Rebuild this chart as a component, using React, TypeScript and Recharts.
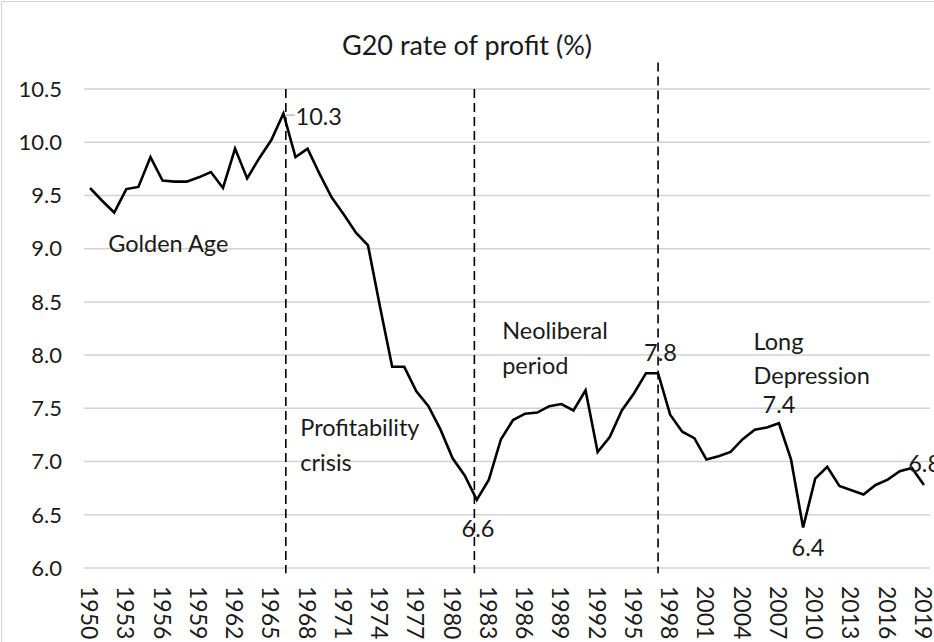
import React from 'react';
import {
  LineChart,
  Line,
  XAxis,
  YAxis,
  CartesianGrid,
  ReferenceLine,
  ReferenceDot
} from 'recharts';

const years = [
  1950, 1951, 1952, 1953, 1954, 1955, 1956, 1957, 1958, 1959,
  1960, 1961, 1962, 1963, 1964, 1965, 1966, 1967, 1968, 1969,
  1970, 1971, 1972, 1973, 1974, 1975, 1976, 1977, 1978, 1979,
  1980, 1981, 1982, 1983, 1984, 1985, 1986, 1987, 1988, 1989,
  1990, 1991, 1992, 1993, 1994, 1995, 1996, 1997, 1998, 1999,
  2000, 2001, 2002, 2003, 2004, 2005, 2006, 2007, 2008, 2009,
  2010, 2011, 2012, 2013, 2014, 2015, 2016, 2017, 2018, 2019
];

// G20 rate of profit, %
const profitRate = [
  9.57, 9.45, 9.34, 9.56, 9.58, 9.86, 9.64, 9.63, 9.63, 9.67,
  9.72, 9.57, 9.94, 9.66, 9.85, 10.02, 10.27, 9.86, 9.94, 9.70,
  9.48, 9.32, 9.15, 9.03, 8.45, 7.89, 7.89, 7.66, 7.52, 7.30,
  7.03, 6.87, 6.64, 6.83, 7.21, 7.39, 7.45, 7.46, 7.52, 7.54,
  7.48, 7.67, 7.09, 7.23, 7.48, 7.64, 7.83, 7.83, 7.44, 7.28,
  7.22, 7.02, 7.05, 7.09, 7.21, 7.30, 7.32, 7.36, 7.02, 6.38,
  6.84, 6.95, 6.77, 6.73, 6.69, 6.78, 6.83, 6.91, 6.94, 6.78
];

const xTicks = [
  1950, 1953, 1956, 1959, 1962, 1965, 1968, 1971, 1974, 1977, 1980, 1983,
  1986, 1989, 1992, 1995, 1998, 2001, 2004, 2007, 2010, 2013, 2016, 2019
];
const yTicks = [6.0, 6.5, 7.0, 7.5, 8.0, 8.5, 9.0, 9.5, 10.0, 10.5];

// period boundaries (dashed verticals)
const breakYears = [1966.2, 1981.8, 1997];
const breakTops = [10.5, 10.5, 10.75];

// text notes, placed in data coordinates
const notes = [
  { x: 1951.5, y: 9.05, text: 'Golden Age', anchor: 'start' },
  { x: 1967.4, y: 7.32, text: 'Profitability', anchor: 'start' },
  { x: 1967.4, y: 7.0, text: 'crisis', anchor: 'start' },
  { x: 1984.1, y: 8.24, text: 'Neoliberal', anchor: 'start' },
  { x: 1984.1, y: 7.91, text: 'period', anchor: 'start' },
  { x: 2004.9, y: 8.13, text: 'Long', anchor: 'start' },
  { x: 2004.9, y: 7.81, text: 'Depression', anchor: 'start' },
  { x: 1967.0, y: 10.25, text: '10.3', anchor: 'start' },
  { x: 1982.1, y: 6.38, text: '6.6', anchor: 'middle' },
  { x: 1997.2, y: 8.03, text: '7.8', anchor: 'middle' },
  { x: 2007.0, y: 7.54, text: '7.4', anchor: 'middle' },
  { x: 2009.4, y: 6.2, text: '6.4', anchor: 'middle' },
  { x: 2017.7, y: 6.99, text: '6.8', anchor: 'start' }
];

const data = years.map((year, i) => ({ year, value: profitRate[i] }));

const FONT = 'Lato, "Open Sans", sans-serif';
const TEXT = '#1a1a1a';

const YearTick = (props: any) => {
  const { x, y, payload } = props;
  return (
    <text
      transform={`translate(${x},${y + 18}) rotate(90)`}
      textAnchor="start"
      dominantBaseline="central"
      fontFamily={FONT}
      fontSize={23}
      fill={TEXT}
    >
      {payload.value}
    </text>
  );
};

const noteLabel = (text: string, anchor: string) => (props: any) => {
  const vb = props.viewBox || {};
  return (
    <text
      x={vb.x}
      y={vb.y}
      textAnchor={anchor}
      dominantBaseline="central"
      fontFamily={FONT}
      fontSize={23.5}
      fill={TEXT}
    >
      {text}
    </text>
  );
};

export default function App() {
  return (
    <div
      style={{
        position: 'absolute',
        left: 0,
        top: 0,
        width: 934,
        height: 642,
        background: '#fff',
        overflow: 'hidden'
      }}
    >
      <div
        style={{
          position: 'absolute',
          left: 1,
          top: 1,
          width: 960,
          height: 680,
          borderLeft: '1px solid #d4d4d4',
          borderTop: '1px solid #d4d4d4'
        }}
      />
      <div
        style={{
          position: 'absolute',
          top: 29,
          left: 0,
          width: 934,
          textAlign: 'center',
          fontFamily: FONT,
          fontSize: 27,
          lineHeight: '32px',
          color: TEXT
        }}
      >
        G20 rate of profit (%)
      </div>
      <div style={{ position: 'absolute', left: 0, top: 0 }}>
        <LineChart
          width={934}
          height={642}
          data={data}
          margin={{ top: 89, right: 4, bottom: 0, left: 0 }}
        >
          <CartesianGrid horizontal vertical={false} stroke="#d2d2d2" strokeWidth={1.5} />
          <XAxis
            dataKey="year"
            type="number"
            domain={[1949.5, 2019.5]}
            ticks={xTicks}
            interval={0}
            tick={<YearTick />}
            axisLine={false}
            tickLine={false}
            tickSize={0}
            tickMargin={0}
            height={74}
            allowDataOverflow
          />
          <YAxis
            type="number"
            domain={[6, 10.5]}
            ticks={yTicks}
            interval={0}
            width={84}
            axisLine={false}
            tickLine={false}
            tickSize={0}
            tickMargin={22}
            tickFormatter={(v: number) => v.toFixed(1)}
            tick={{ fontFamily: FONT, fontSize: 22, fill: TEXT }}
          />
          {breakYears.map((bx, i) => (
            <ReferenceLine
              key={bx}
              segment={[
                { x: bx, y: breakTops[i] },
                { x: bx, y: 5.95 }
              ]}
              stroke="#000"
              strokeWidth={1.6}
              strokeDasharray="9 5"
              ifOverflow="visible"
            />
          ))}
          <Line
            type="linear"
            dataKey="value"
            stroke="#000"
            strokeWidth={2.6}
            dot={false}
            isAnimationActive={false}
          />
          <ReferenceLine
            segment={[
              { x: 1966.2, y: 10.255 },
              { x: 1966.95, y: 10.255 }
            ]}
            stroke="#999"
            strokeWidth={1}
            ifOverflow="visible"
          />
          {notes.map((n) => (
            <ReferenceDot
              key={n.text}
              x={n.x}
              y={n.y}
              r={0}
              fill="none"
              stroke="none"
              ifOverflow="visible"
              label={{ content: noteLabel(n.text, n.anchor) }}
            />
          ))}
        </LineChart>
      </div>
    </div>
  );
}
